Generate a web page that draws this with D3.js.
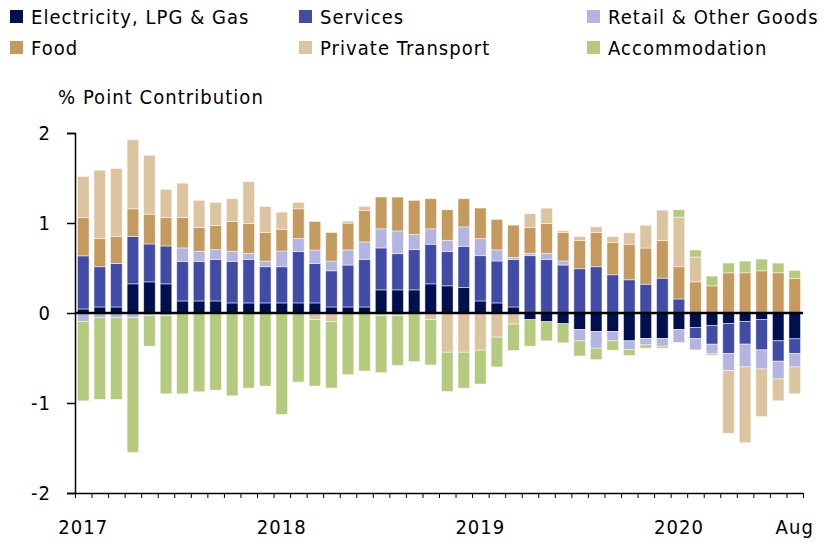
<!DOCTYPE html>
<html>
<head>
<meta charset="utf-8">
<script src="https://cdn.jsdelivr.net/npm/d3@7"></script>
<style>
  html, body { margin: 0; padding: 0; background: #fff; }
  svg { display: block; }
  text { font-family: "DejaVu Sans Condensed", "Liberation Sans Narrow", sans-serif; fill: #000; letter-spacing: 1.05px; }
</style>
</head>
<body>
<svg id="chart" width="826" height="543"></svg>
<script>
// ---- Data ----
const months = [
  "Jan17","Feb17","Mar17","Apr17","May17","Jun17","Jul17","Aug17","Sep17","Oct17","Nov17","Dec17",
  "Jan18","Feb18","Mar18","Apr18","May18","Jun18","Jul18","Aug18","Sep18","Oct18","Nov18","Dec18",
  "Jan19","Feb19","Mar19","Apr19","May19","Jun19","Jul19","Aug19","Sep19","Oct19","Nov19","Dec19",
  "Jan20","Feb20","Mar20","Apr20","May20","Jun20","Jul20","Aug20"
];
const seriesNames = ["Electricity, LPG & Gas","Services","Retail & Other Goods","Food","Private Transport","Accommodation"];
const seriesColors = ["#00104f","#414ca6","#b3b5e0","#c49a5f","#dcc4a0","#b4ca7e"];

const electricity = [0.045,0.067,0.067,0.324,0.346,0.324,0.134,0.134,0.134,0.112,0.112,0.112,
  0.112,0.112,0.112,0.067,0.067,0.067,0.257,0.257,0.257,0.324,0.302,0.283,
  0.134,0.112,0.067,-0.074,-0.097,-0.119,-0.183,-0.205,-0.205,-0.309,-0.283,-0.283,
  -0.183,-0.16,-0.138,-0.115,-0.093,-0.071,-0.309,-0.287];
const services = [0.59,0.447,0.484,0.525,0.421,0.421,0.44,0.44,0.462,0.462,0.484,0.402,
  0.402,0.57,0.439,0.402,0.466,0.529,0.466,0.402,0.447,0.44,0.38,0.458,
  0.503,0.466,0.529,0.637,0.596,0.533,0.492,0.514,0.425,0.369,0.32,0.387,
  0.156,-0.123,-0.209,-0.335,-0.253,-0.339,-0.227,-0.164];
const retail = [-0.093,-0.052,-0.052,-0.052,-0.03,-0.03,0.149,0.112,0.108,0.112,0.067,0.063,
  0.175,0.145,0.149,0.108,0.168,0.194,0.212,0.253,0.168,0.171,0.126,0.216,
  0.19,0.123,0.022,0.026,0.067,0.045,-0.127,-0.186,-0.104,-0.1,-0.071,-0.086,
  -0.145,-0.127,-0.108,-0.19,-0.253,-0.212,-0.197,-0.149];
const food = [0.424,0.313,0.298,0.309,0.331,0.316,0.339,0.264,0.268,0.331,0.331,0.317,
  0.242,0.331,0.317,0.317,0.298,0.35,0.354,0.376,0.379,0.335,0.339,0.313,
  0.339,0.339,0.358,0.287,0.331,0.317,0.313,0.38,0.358,0.395,0.402,0.417,
  0.358,0.346,0.302,0.447,0.447,0.469,0.447,0.384];
const transport = [0.458,0.76,0.756,0.767,0.655,0.313,0.38,0.302,0.257,0.253,0.466,0.29,
  0.19,0.071,-0.074,-0.097,0.022,0.045,-0.03,-0.03,0,-0.074,-0.436,-0.436,
  -0.413,-0.268,-0.123,0.153,0.171,0.019,0.045,0.063,0.067,0.127,0.253,0.339,
  0.551,0.276,-0.019,-0.696,-0.842,-0.529,-0.242,-0.298];
const accommodation = [-0.883,-0.909,-0.909,-1.497,-0.339,-0.868,-0.898,-0.875,-0.857,-0.92,-0.834,-0.812,
  -1.128,-0.767,-0.737,-0.737,-0.685,-0.644,-0.633,-0.551,-0.54,-0.503,-0.436,-0.399,
  -0.376,-0.331,-0.294,-0.294,-0.212,-0.212,-0.168,-0.127,-0.104,-0.063,-0.037,-0.022,
  0.082,0.078,0.108,0.108,0.13,0.13,0.108,0.089];

const yTicks = [-2,-1,0,1,2];
const xLabelIdx = [0,12,24,36,43];
const xLabels = ["2017","2018","2019","2020","Aug"];
const axisTitle = "% Point Contribution";

// ---- Build table ----
const seriesArrays = [electricity, services, retail, food, transport, accommodation];
const table = months.map((m, i) => {
  const row = { month: i };
  seriesNames.forEach((k, j) => row[k] = seriesArrays[j][i]);
  return row;
});

const svg = d3.select("#chart");
const plotL = 75, plotR = 803, plotT = 133, plotB = 493;

const x = d3.scaleBand().domain(d3.range(months.length)).range([plotL, plotR])
  .paddingInner(0.3).paddingOuter(0.15);
const xLin = d3.scaleLinear().domain([0, months.length]).range([plotL, plotR]);
const y = d3.scaleLinear().domain([-2, 2]).range([plotB, plotT]);

const stack = d3.stack().keys(seriesNames).offset(d3.stackOffsetDiverging).order(d3.stackOrderNone);
const layers = stack(table);

svg.append("g").selectAll("g").data(layers).join("g")
  .attr("fill", (d, i) => seriesColors[i])
  .selectAll("rect").data(d => d).join("rect")
  .attr("x", d => x(d.data.month))
  .attr("width", x.bandwidth())
  .attr("y", d => y(Math.max(d[0], d[1])))
  .attr("height", d => Math.abs(y(d[0]) - y(d[1])))
  .attr("stroke", "rgba(255,255,255,0.6)")
  .attr("stroke-width", 0.8);

// zero line
svg.append("line")
  .attr("x1", plotL).attr("x2", plotR)
  .attr("y1", y(0)).attr("y2", y(0))
  .attr("stroke", "#000").attr("stroke-width", 2.5);

// left axis
const gy = svg.append("g").attr("transform", `translate(${plotL},0)`)
  .call(d3.axisLeft(y).tickValues(yTicks).tickSize(8).tickPadding(16).tickFormat(d => String(d)));
gy.selectAll("text").style("font-size", "20px").attr("font-family", null);
gy.attr("font-family", null).attr("font-size", null);
gy.select(".domain").attr("stroke-width", 1.5);
gy.selectAll(".tick line").attr("stroke-width", 1.5);

// bottom axis ticks (month boundaries)
const gx = svg.append("g").attr("transform", `translate(0,${plotB})`)
  .call(d3.axisBottom(xLin).tickValues(d3.range(months.length + 1)).tickSize(5).tickSizeOuter(0).tickFormat(""));
gx.select(".domain").attr("stroke-width", 1.5);
gx.selectAll(".tick line").attr("stroke-width", 1);

// bottom labels
const gxl = svg.append("g").attr("transform", `translate(0,${plotB})`)
  .call(d3.axisBottom(x).tickValues(xLabelIdx).tickSize(0).tickPadding(27)
    .tickFormat(d => xLabels[xLabelIdx.indexOf(d)]));
gxl.attr("font-family", null).attr("font-size", null);
gxl.select(".domain").remove();
gxl.selectAll("text").style("font-size", "20px");

// axis title
svg.append("text").attr("x", 58).attr("y", 97).attr("dy", "0.35em")
  .style("font-size", "20px").text(axisTitle);

// legend
const legCols = [10, 299, 587];
const legRows = [17, 48];
const leg = svg.append("g").selectAll("g").data(seriesNames).join("g")
  .attr("transform", (d, i) => `translate(${legCols[i % 3]},${legRows[Math.floor(i / 3)]})`);
leg.append("rect").attr("x", 0).attr("y", -7).attr("width", 13).attr("height", 13)
  .attr("fill", (d, i) => seriesColors[i]);
leg.append("text").attr("x", 21).attr("y", 0).attr("dy", "0.35em")
  .style("font-size", "20px").text(d => d);
</script>
</body>
</html>
